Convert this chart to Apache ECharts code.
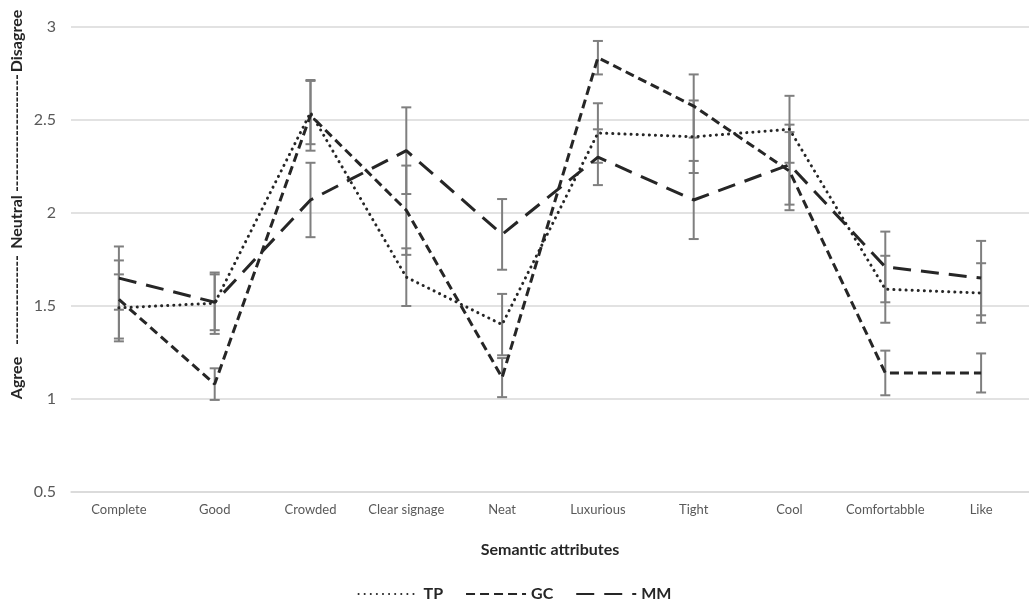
<!DOCTYPE html>
<html>
<head>
<meta charset="utf-8">
<script src="https://cdn.jsdelivr.net/npm/echarts@6/dist/echarts.min.js"></script>
<style>
html,body{margin:0;padding:0;background:#fff;}
#chart{width:1029px;height:605px;}
</style>
</head>
<body>
<div id="chart"></div>
<script>
const categories = ['Complete','Good','Crowded','Clear signage','Neat','Luxurious','Tight','Cool','Comfortabble','Like'];
const TP     = [1.49, 1.515, 2.54, 1.655, 1.40, 2.43, 2.41, 2.45, 1.59, 1.57];
const TP_err = [0.18, 0.165, 0.17, 0.155, 0.165, 0.16, 0.195, 0.18, 0.18, 0.16];
const GC     = [1.535, 1.08, 2.525, 2.015, 1.115, 2.835, 2.575, 2.225, 1.14, 1.14];
const GC_err = [0.21, 0.085, 0.19, 0.24, 0.105, 0.09, 0.17, 0.21, 0.12, 0.105];
const MM     = [1.65, 1.52, 2.07, 2.335, 1.885, 2.30, 2.07, 2.26, 1.71, 1.65];
const MM_err = [0.17, 0.15, 0.2, 0.233, 0.19, 0.15, 0.21, 0.215, 0.19, 0.2];
const yTicks = [0.5, 1, 1.5, 2, 2.5, 3];
const xTitle = 'Semantic attributes';
const yWords = ['Agree', 'Neutral', 'Disagree'];

const FONT = 'Lato, "Open Sans", sans-serif';
const lineColor = '#262626';
const errColor = '#7f7f7f';

function errData(vals, errs){ return vals.map((v,i)=>[i, v, errs[i]]); }
function errSeries(vals, errs){
  return {
    type: 'custom',
    data: errData(vals, errs),
    encode: {x: 0, y: 1},
    z: 1,
    silent: true,
    renderItem: function(params, api){
      const x = api.value(0), v = api.value(1), e = api.value(2);
      const t = api.coord([x, v + e]);
      const b = api.coord([x, v - e]);
      const w = 5;
      const st = {stroke: errColor, lineWidth: 2};
      return {type: 'group', children: [
        {type:'line', shape:{x1:t[0], y1:t[1], x2:b[0], y2:b[1]}, style: st},
        {type:'line', shape:{x1:t[0]-w, y1:t[1], x2:t[0]+w, y2:t[1]}, style: st},
        {type:'line', shape:{x1:b[0]-w, y1:b[1], x2:b[0]+w, y2:b[1]}, style: st}
      ]};
    }
  };
}
function lineSeries(name, vals, dash, cap){
  return {
    name: name, type: 'line', data: vals, symbol: 'none', z: 3,
    lineStyle: {color: lineColor, width: 3, type: dash, cap: cap},
    itemStyle: {color: lineColor}
  };
}

const chart = echarts.init(document.getElementById('chart'));
chart.setOption({
  animation: false,
  backgroundColor: '#fff',
  textStyle: {fontFamily: FONT},
  grid: {left: 71, top: 27, width: 961, height: 465},
  legend: {
    bottom: -2, left: 'center',
    itemWidth: 60, itemHeight: 12, itemGap: 22,
    data: ['TP','GC','MM'],
    itemStyle: {opacity: 0},
    textStyle: {fontFamily: FONT, fontSize: 16, fontWeight: 'bold', color: '#262626'}
  },
  xAxis: {
    type: 'category', data: categories, boundaryGap: true,
    axisLine: {show: true, lineStyle: {color: '#d9d9d9', width: 1.5}},
    axisTick: {show: false},
    axisLabel: {fontFamily: FONT, fontSize: 13, color: '#595959', margin: 11, interval: 0},
    name: xTitle, nameLocation: 'middle', nameGap: 50,
    nameTextStyle: {fontFamily: FONT, fontSize: 16, fontWeight: 'bold', color: '#262626'}
  },
  yAxis: {
    type: 'value', min: 0.5, max: 3, interval: 0.5,
    axisLine: {show: false}, axisTick: {show: false},
    splitLine: {lineStyle: {color: '#d9d9d9', width: 1.5}},
    axisLabel: {fontFamily: FONT, fontSize: 16, color: '#595959', margin: 15,
      formatter: function(v){ return yTicks.indexOf(v) >= 0 ? String(v) : ''; }}
  },
  graphic: [
    {type:'text', x: 17, y: 378, rotation: Math.PI/2, style:{text: yWords[0], font: 'bold 16px ' + FONT, fill:'#262626', align:'center', verticalAlign:'middle'}},
    {type:'text', x: 17, y: 300, rotation: Math.PI/2, style:{text: '----------------', font: 'bold 15px ' + FONT, fill:'#262626', align:'center', verticalAlign:'middle'}},
    {type:'text', x: 17, y: 222, rotation: Math.PI/2, style:{text: yWords[1], font: 'bold 16px ' + FONT, fill:'#262626', align:'center', verticalAlign:'middle'}},
    {type:'text', x: 17, y: 133, rotation: Math.PI/2, style:{text: '---------------------', font: 'bold 15px ' + FONT, fill:'#262626', align:'center', verticalAlign:'middle'}},
    {type:'text', x: 17, y: 41, rotation: Math.PI/2, style:{text: yWords[2], font: 'bold 16px ' + FONT, fill:'#262626', align:'center', verticalAlign:'middle'}}
  ],
  series: [
    errSeries(TP, TP_err),
    errSeries(GC, GC_err),
    errSeries(MM, MM_err),
    lineSeries('TP', TP, [0.1, 6], 'round'),
    lineSeries('GC', GC, [9, 5], 'butt'),
    lineSeries('MM', MM, [18, 10], 'butt')
  ]
});
</script>
</body>
</html>
